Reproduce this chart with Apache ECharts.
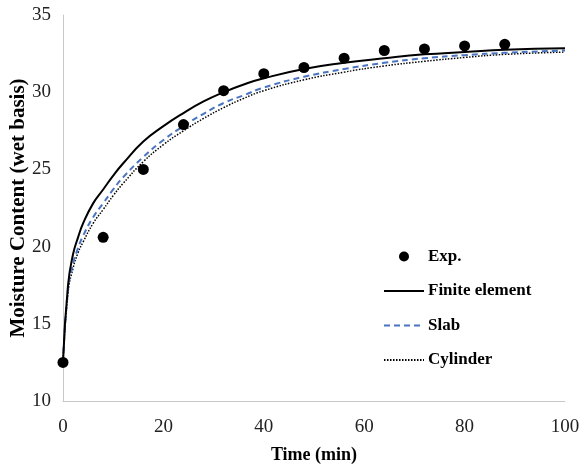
<!DOCTYPE html>
<html>
<head>
<meta charset="utf-8">
<script src="https://cdn.jsdelivr.net/npm/echarts@6/dist/echarts.min.js"></script>
<style>
  html, body { margin: 0; padding: 0; background: #fff; }
  #chart { width: 582px; height: 467px; }
</style>
</head>
<body>
<div id="chart"></div>
<script>
// experimental points
const expTime = [0, 8, 16, 24, 32, 40, 48, 56, 64, 72, 80, 88]
const expMoisture = [12.5, 20.6, 25.0, 27.9, 30.1, 31.2, 31.6, 32.2, 32.7, 32.8, 33.0, 33.1]

// model curves
const modelTime = [0, 1, 2, 3, 4, 6, 8, 10, 12, 16, 20, 24, 28, 32, 36, 40, 48, 56, 64, 72, 80, 88, 100]
const finiteElement = [12.5, 17.5, 19.5, 20.6, 21.5, 22.8, 23.7, 24.6, 25.4, 26.8, 27.8, 28.65, 29.4, 30.0, 30.5, 30.9, 31.5, 31.9, 32.2, 32.45, 32.6, 32.75, 32.85]
const slab = [12.5, 17.2, 18.9, 19.9, 20.7, 21.9, 22.8, 23.7, 24.5, 25.8, 26.9, 27.8, 28.6, 29.3, 29.8, 30.3, 31.0, 31.5, 31.9, 32.2, 32.4, 32.55, 32.7]
const cylinder = [12.5, 17.0, 18.6, 19.6, 20.3, 21.5, 22.4, 23.3, 24.1, 25.5, 26.6, 27.5, 28.3, 29.0, 29.6, 30.1, 30.8, 31.3, 31.7, 32.0, 32.25, 32.45, 32.6]

const pairs = (xs, ys) => xs.map((x, i) => [x, ys[i]])

const serif = '"Liberation Serif", "DejaVu Serif", serif'

const myChart = echarts.init(document.getElementById('chart'))

// line entries in the legend: keep the line, hide the marker
const noMarker = { opacity: 0 }

myChart.setOption({
  animation: false,
  grid: {
    left: 63,
    right: 17,
    top: 15,
    bottom: 66,
    outerBoundsMode: 'none'
  },
  legend: {
    orient: 'vertical',
    left: 378,
    top: 243,
    itemWidth: 40,
    itemHeight: 10,
    itemGap: 17.5,
    textStyle: {
      fontFamily: serif,
      fontWeight: 'bold',
      fontSize: 17,
      color: '#000',
      padding: [0, 0, 0, -1]
    },
    data: [
      { name: 'Exp.', icon: 'circle' },
      { name: 'Finite element', itemStyle: noMarker },
      { name: 'Slab', itemStyle: noMarker },
      { name: 'Cylinder', itemStyle: noMarker }
    ]
  },
  xAxis: {
    type: 'value',
    min: 0,
    max: 100,
    interval: 20,
    name: 'Time (min)',
    nameLocation: 'middle',
    nameGap: 45,
    nameMoveOverlap: false,
    nameTextStyle: {
      fontFamily: serif,
      fontWeight: 'bold',
      fontSize: 18,
      color: '#000'
    },
    axisLine: { lineStyle: { color: '#c8c8c8', width: 1 } },
    axisTick: { show: false },
    splitLine: { show: false },
    axisLabel: {
      fontFamily: serif,
      fontSize: 19,
      color: '#222',
      margin: 17
    }
  },
  yAxis: {
    type: 'value',
    min: 10,
    max: 35,
    interval: 5,
    name: 'Moisture Content (wet basis)',
    nameLocation: 'middle',
    nameGap: 34,
    nameMoveOverlap: false,
    nameTextStyle: {
      fontFamily: serif,
      fontWeight: 'bold',
      fontSize: 21,
      color: '#000'
    },
    axisLine: { show: true, lineStyle: { color: '#c8c8c8', width: 1 } },
    axisTick: { show: false },
    splitLine: { show: false },
    axisLabel: {
      fontFamily: serif,
      fontSize: 19,
      color: '#222',
      margin: 12
    }
  },
  series: [
    {
      name: 'Finite element',
      type: 'line',
      smooth: true,
      symbol: 'none',
      lineStyle: { color: '#000', width: 2 },
      itemStyle: { color: '#000' },
      data: pairs(modelTime, finiteElement),
      z: 3
    },
    {
      name: 'Slab',
      type: 'line',
      smooth: true,
      symbol: 'none',
      lineStyle: { color: '#4a74c0', width: 2, type: [6, 4] },
      itemStyle: { color: '#4a74c0' },
      data: pairs(modelTime, slab),
      z: 2
    },
    {
      name: 'Cylinder',
      type: 'line',
      smooth: true,
      symbol: 'none',
      lineStyle: { color: '#000', width: 1.5, type: [1.5, 1.5] },
      itemStyle: { color: '#000' },
      data: pairs(modelTime, cylinder),
      z: 1
    },
    {
      name: 'Exp.',
      type: 'scatter',
      symbol: 'circle',
      symbolSize: 11,
      itemStyle: { color: '#000', opacity: 1 },
      data: pairs(expTime, expMoisture),
      z: 5
    }
  ]
})
</script>
</body>
</html>
